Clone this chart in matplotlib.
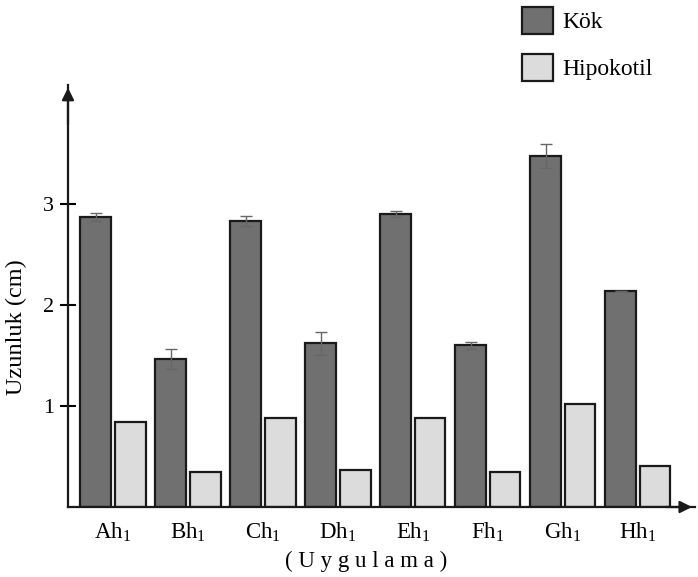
import matplotlib
matplotlib.use("Agg")
import matplotlib.pyplot as plt
import numpy as np
from matplotlib.patches import Patch

plt.rcParams['font.family'] = ['Liberation Serif', 'DejaVu Serif']
plt.rcParams['mathtext.fontset'] = 'custom'
plt.rcParams['mathtext.rm'] = 'Liberation Serif'
plt.rcParams['mathtext.it'] = 'Liberation Serif:italic'

categories = [r'Ah$_{\rm 1}$', r'Bh$_{\rm 1}$', r'Ch$_{\rm 1}$', r'Dh$_{\rm 1}$',
              r'Eh$_{\rm 1}$', r'Fh$_{\rm 1}$', r'Gh$_{\rm 1}$', r'Hh$_{\rm 1}$']
kok = [2.87, 1.47, 2.83, 1.62, 2.90, 1.60, 3.48, 2.14]
kok_err = [0.04, 0.10, 0.05, 0.11, 0.03, 0.03, 0.12, 0.0]
hipokotil = [0.84, 0.35, 0.88, 0.37, 0.88, 0.35, 1.02, 0.41]
yticks = [1, 2, 3]

fig = plt.figure(figsize=(6.98, 5.77), dpi=100)
ax = fig.add_axes([0.0974, 0.1213, 0.898, 0.7314])

x = np.arange(len(categories))
w = 0.41
gap = 0.05
kcol = '#707070'
hcol = '#dcdcdc'
ax.bar(x - w / 2 - gap / 2, kok, w, color=kcol, edgecolor='#1a1a1a', linewidth=1.6,
       label='Kök', zorder=2)
ax.bar(x + w / 2 + gap / 2, hipokotil, w, color=hcol, edgecolor='#1a1a1a', linewidth=1.6,
       label='Hipokotil', zorder=2)
ax.errorbar(x - w / 2 - gap / 2, kok, yerr=kok_err, fmt='none', ecolor='#666666',
            elinewidth=1.0, capsize=4, capthick=1.0, zorder=3)

ax.set_xlim(-0.6, 7.76)
ax.set_ylim(0, 4.18)
ax.set_xticks(x)
ax.set_xticklabels(categories, fontsize=16.5)
ax.set_yticks(yticks)
ax.set_yticklabels([str(t) for t in yticks], fontsize=16)
ax.tick_params(axis='y', direction='inout', length=12, width=1.5, pad=4)
ax.tick_params(axis='x', length=0, pad=10)

for s in ['top', 'right']:
    ax.spines[s].set_visible(False)
for s in ['left', 'bottom']:
    ax.spines[s].set_linewidth(1.6)
    ax.spines[s].set_color('#1a1a1a')

ax.annotate('', xy=(0, 1.0), xytext=(0, 0.9), xycoords='axes fraction',
            arrowprops=dict(arrowstyle='-|>', color='#1a1a1a', lw=1.6, mutation_scale=18))
ax.annotate('', xy=(1.0, 0), xytext=(0.95, 0), xycoords='axes fraction',
            arrowprops=dict(arrowstyle='-|>', color='#1a1a1a', lw=1.6, mutation_scale=18))

fig.text(16 / 698, 1 - 327 / 577, 'Uzunluk (cm)', rotation=90, ha='center', va='center',
         fontsize=17.5)
fig.text(0.525, 1 - 561 / 577, '( U y g u l a m a )', ha='center', va='center', fontsize=16.5)

handles = [Patch(facecolor=kcol, edgecolor='#1a1a1a', linewidth=1.6),
           Patch(facecolor=hcol, edgecolor='#1a1a1a', linewidth=1.6)]
fig.legend(handles, ['Kök', 'Hipokotil'], loc='upper left',
           bbox_to_anchor=(0.735, 1.005), frameon=False, fontsize=17,
           handlelength=1.3, handleheight=1.4, labelspacing=0.85, handletextpad=0.4,
           borderaxespad=0.0)

fig.savefig('out.png', dpi=100)
